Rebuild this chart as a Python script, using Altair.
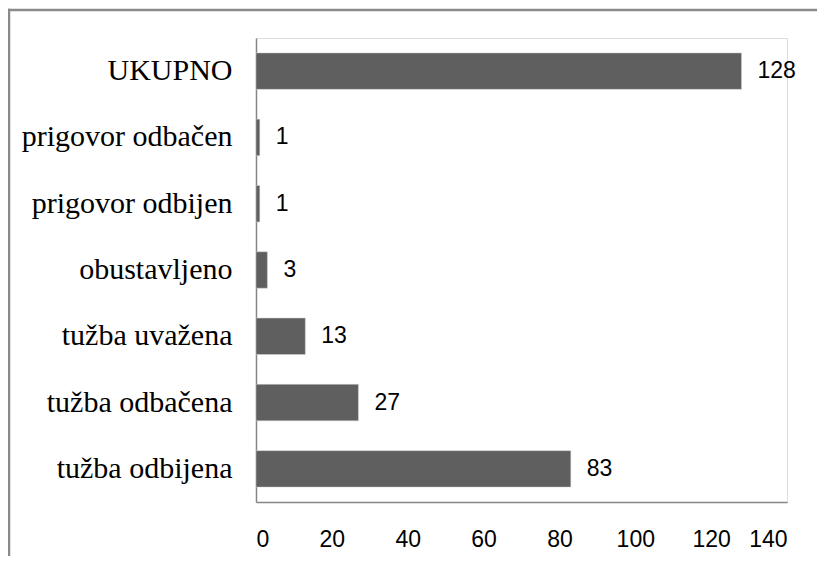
import altair as alt
import pandas as pd

categories = ["UKUPNO", "prigovor odbačen", "prigovor odbijen", "obustavljeno",
              "tužba uvažena", "tužba odbačena", "tužba odbijena"]
values = [128, 1, 1, 3, 13, 27, 83]
x_ticks = [0, 20, 40, 60, 80, 100, 120, 140]

df = pd.DataFrame({"kategorija": categories, "broj": values})

W, H = 531, 464

y_enc = alt.Y("kategorija:N", sort=categories, title=None,
              scale=alt.Scale(paddingInner=0.45, paddingOuter=0.225),
              axis=alt.Axis(labelFont="Liberation Serif", labelFontSize=30,
                            labelColor="#000000", labelPadding=24, ticks=False,
                            domainColor="#868686", domainWidth=1.5, labelLimit=400))
x_enc = alt.X("broj:Q", title=None,
              scale=alt.Scale(domain=[0, 140], nice=False),
              axis=alt.Axis(values=x_ticks, grid=False, ticks=False,
                            labelFont="Liberation Sans", labelFontSize=23,
                            labelColor="#000000", labelPadding=26,
                            domainColor="#868686", domainWidth=1.5))

base = alt.Chart(df)
bars = base.mark_bar(color="#5f5f5f", stroke="#d0d0d0", strokeWidth=0.5).encode(x=x_enc, y=y_enc)
labels = base.mark_text(align="left", baseline="middle", dx=16,
                        font="Liberation Sans", fontSize=23, color="#000000").encode(
    x="broj:Q", y=alt.Y("kategorija:N", sort=categories), text="broj:Q")

frame_data = alt.Data(values=[{"a": 1}])
left_line = alt.Chart(frame_data).mark_rule(color="#8a8a8a", strokeWidth=2.5).encode(
    x=alt.value(-247), y=alt.value(-29.2), y2=alt.value(H + 120))
top_line = alt.Chart(frame_data).mark_rule(color="#8a8a8a", strokeWidth=2.5).encode(
    x=alt.value(-248.2), x2=alt.value(W + 120), y=alt.value(-28))

chart = alt.layer(bars, labels, left_line, top_line).properties(
    width=W, height=H,
    autosize=alt.AutoSizeParams(type="none"),
    padding={"left": 248, "top": 30, "right": 30, "bottom": 54},
).configure_view(stroke="transparent", strokeWidth=0).configure(background="#ffffff")

chart.save("out.html", embed_options={"renderer": "svg", "actions": False})
